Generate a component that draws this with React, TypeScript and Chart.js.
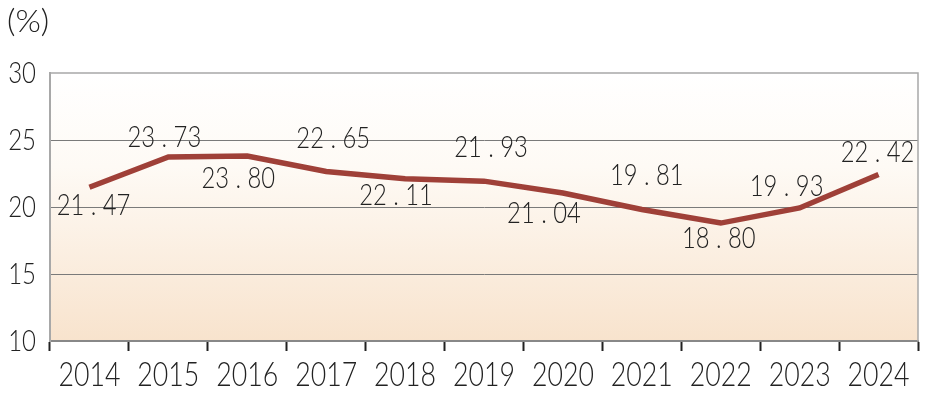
import React, { useEffect, useRef } from "react";
import { Chart, registerables } from "chart.js";

Chart.register(...registerables);

const years = ["2014", "2015", "2016", "2017", "2018", "2019", "2020", "2021", "2022", "2023", "2024"];
const rates = [21.47, 23.73, 23.8, 22.65, 22.11, 21.93, 21.04, 19.81, 18.8, 19.93, 22.42];
const labelText = ["21.47", "23.73", "23.80", "22.65", "22.11", "21.93", "21.04", "19.81", "18.80", "19.93", "22.42"];
const labelDx = [4, -4, -9, 7, -9, 7, -19, 5, -2, -13, -1];
const labelDy = [18, -19, 23, -33, 17, -33, 21, -34, 16, -21, -22];
const yTicks = [10, 15, 20, 25, 30];
const unitLabel = "(%)";

const FONT = "Lato, 'DejaVu Sans', sans-serif";

function drawScaled(ctx: any, text: string, x: number, y: number, sx: number, align: "left" | "center" | "right") {
  ctx.save();
  ctx.translate(x, y);
  ctx.scale(sx, 1);
  ctx.textAlign = align;
  ctx.textBaseline = "middle";
  ctx.fillText(text, 0, 0);
  ctx.restore();
}

const decorPlugin = {
  id: "decor",
  beforeDraw(chart: any) {
    const { ctx, chartArea } = chart;
    const { left, right, top, bottom } = chartArea;
    const g = ctx.createLinearGradient(0, top, 0, bottom);
    g.addColorStop(0, "#ffffff");
    g.addColorStop(0.35, "#fefaf5");
    g.addColorStop(1, "#f8e3cd");
    ctx.save();
    ctx.fillStyle = g;
    ctx.fillRect(left, top, right - left, bottom - top);
    ctx.restore();
  },
  afterDraw(chart: any) {
    const { ctx, chartArea, scales } = chart;
    const { left, right, top, bottom } = chartArea;
    ctx.save();
    ctx.strokeStyle = "#a8a8a8";
    ctx.lineWidth = 1.5;
    ctx.beginPath();
    ctx.moveTo(left, top);
    ctx.lineTo(right, top);
    ctx.lineTo(right, bottom);
    ctx.stroke();

    ctx.fillStyle = "#222";
    // unit label
    ctx.font = `300 31px ${FONT}`;
    drawScaled(ctx, unitLabel, 7, 22, 1.05, "left");

    // y tick labels
    ctx.font = `300 30px ${FONT}`;
    yTicks.forEach((v) => {
      drawScaled(ctx, String(v), 36, scales.y.getPixelForValue(v), 0.8, "right");
    });

    // x tick labels
    ctx.font = `300 33px ${FONT}`;
    years.forEach((yr, i) => {
      drawScaled(ctx, yr, scales.x.getPixelForValue(i), 375, 0.81, "center");
    });

    // data labels
    const meta = chart.getDatasetMeta(0);
    ctx.font = `300 29px ${FONT}`;
    meta.data.forEach((pt: any, i: number) => {
      const txt = labelText[i].replace(".", " . ");
      drawScaled(ctx, txt, pt.x + labelDx[i], pt.y + labelDy[i], 0.82, "center");
    });
    ctx.restore();
  },
};

export default function App() {
  const ref = useRef<HTMLCanvasElement | null>(null);
  useEffect(() => {
    document.body.style.margin = "0";
    const chart = new Chart(ref.current as HTMLCanvasElement, {
      type: "line",
      data: {
        labels: years,
        datasets: [
          {
            data: rates,
            borderColor: "#9f4038",
            borderWidth: 5.5,
            pointRadius: 0,
            tension: 0,
            fill: false,
          },
        ],
      },
      options: {
        animation: false,
        responsive: false,
        layout: { padding: { top: 73, right: 13, left: 0, bottom: 0 } },
        plugins: { legend: { display: false }, tooltip: { enabled: false } },
        scales: {
          x: {
            offset: true,
            grid: {
              offset: true,
              drawOnChartArea: false,
              drawTicks: true,
              tickLength: 10,
              tickWidth: 2,
              tickColor: "#222",
            },
            border: { color: "#888", width: 2 },
            ticks: { display: false, autoSkip: false },
            afterFit(scale: any) {
              scale.height = 53;
            },
          },
          y: {
            min: 10,
            max: 30,
            afterBuildTicks(scale: any) {
              scale.ticks = yTicks.map((v) => ({ value: v }));
            },
            grid: {
              drawTicks: false,
              color: (c: any) => (c.tick && (c.tick.value === 30 || c.tick.value === 10) ? "rgba(0,0,0,0)" : "#7a7a7a"),
              lineWidth: 1,
            },
            border: { color: "#a8a8a8", width: 2 },
            ticks: { display: false },
            afterFit(scale: any) {
              scale.width = 50;
            },
          },
        },
      },
      plugins: [decorPlugin],
    });
    return () => chart.destroy();
  }, []);
  return (
    <div style={{ width: 931, height: 394 }}>
      <canvas ref={ref} width={931} height={394} style={{ display: "block" }} />
    </div>
  );
}
